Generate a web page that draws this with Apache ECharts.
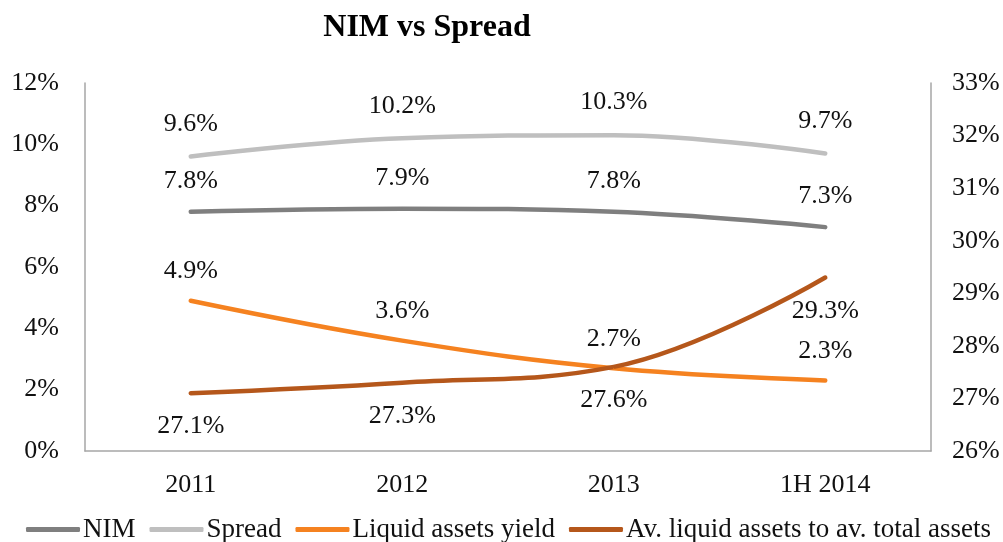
<!DOCTYPE html>
<html>
<head>
<meta charset="utf-8">
<script src="https://cdn.jsdelivr.net/npm/echarts@6/dist/echarts.min.js"></script>
<style>
  html, body { margin: 0; padding: 0; background: #fff; }
  #chart { width: 1003px; height: 542px; }
</style>
</head>
<body>
<div id="chart"></div>
<script>
// Periods on the horizontal axis
const categories = ['2011', '2012', '2013', '1H 2014'];

// Left axis series (percent)
const nim = [7.8, 7.9, 7.8, 7.3];
const spread = [9.6, 10.2, 10.3, 9.7];
const liquidYield = [4.9, 3.6, 2.7, 2.3];

// Right axis series (percent)
const liquidShare = [27.1, 27.3, 27.6, 29.3];

const seriesNames = ['NIM', 'Spread', 'Liquid assets yield', 'Av. liquid assets to av. total assets'];
const seriesColors = ['#7f7f7f', '#bfbfbf', '#f58220', '#b5571b'];

const font = '"Liberation Serif", "Times New Roman", serif';
const fs = 26;

const chart = echarts.init(document.getElementById('chart'), null, { renderer: 'canvas' });

function lineSeries(i, data, yAxisIndex, labelPos, dist) {
  return {
    name: seriesNames[i],
    type: 'line',
    data: data,
    yAxisIndex: yAxisIndex,
    smooth: 0.4,
    symbol: 'circle',
    symbolSize: 1,
    itemStyle: { color: seriesColors[i] },
    lineStyle: { color: seriesColors[i], width: 4.5, cap: 'round' },
    label: {
      show: true,
      position: labelPos,
      distance: dist,
      formatter: p => p.value.toFixed(1) + '%',
      fontFamily: font,
      fontSize: fs,
      color: '#111'
    },
    emphasis: { disabled: true },
    animation: false
  };
}

chart.setOption({
  animation: false,
  title: {
    text: 'NIM vs Spread',
    left: 422,
    top: 7,
    textAlign: 'center',
    textStyle: { fontFamily: font, fontSize: 32, fontWeight: 'bold', color: '#000' }
  },
  grid: { left: 85, right: 72, top: 83, bottom: 91 },
  legend: {
    top: 511,
    left: 21,
    itemWidth: 54,
    itemHeight: 5,
    itemGap: 14,
    icon: 'roundRect',
    textStyle: { fontFamily: font, fontSize: 27, color: '#111', padding: [0, 0, 0, -2] },
    data: seriesNames
  },
  xAxis: {
    type: 'category',
    data: categories,
    boundaryGap: true,
    axisLine: { lineStyle: { color: '#a6a6a6', width: 1.5 } },
    axisTick: { show: false },
    axisLabel: { fontFamily: font, fontSize: fs, color: '#111', margin: 21 }
  },
  yAxis: [
    {
      type: 'value',
      min: 0, max: 12, interval: 2,
      splitLine: { show: false },
      axisLine: { show: true, lineStyle: { color: '#a6a6a6', width: 1.5 } },
      axisTick: { show: false },
      axisLabel: { formatter: '{value}%', fontFamily: font, fontSize: fs, color: '#111', margin: 26 }
    },
    {
      type: 'value',
      min: 26, max: 33, interval: 1,
      position: 'right',
      splitLine: { show: false },
      axisLine: { show: true, lineStyle: { color: '#a6a6a6', width: 1.5 } },
      axisTick: { show: false },
      axisLabel: { formatter: '{value}%', fontFamily: font, fontSize: fs, color: '#111', margin: 21 }
    }
  ],
  series: [
    lineSeries(0, nim, 0, 'top', 17),
    lineSeries(1, spread, 0, 'top', 19),
    lineSeries(2, liquidYield, 0, 'top', 16),
    lineSeries(3, liquidShare, 1, 'bottom', 20)
  ]
});
</script>
</body>
</html>
